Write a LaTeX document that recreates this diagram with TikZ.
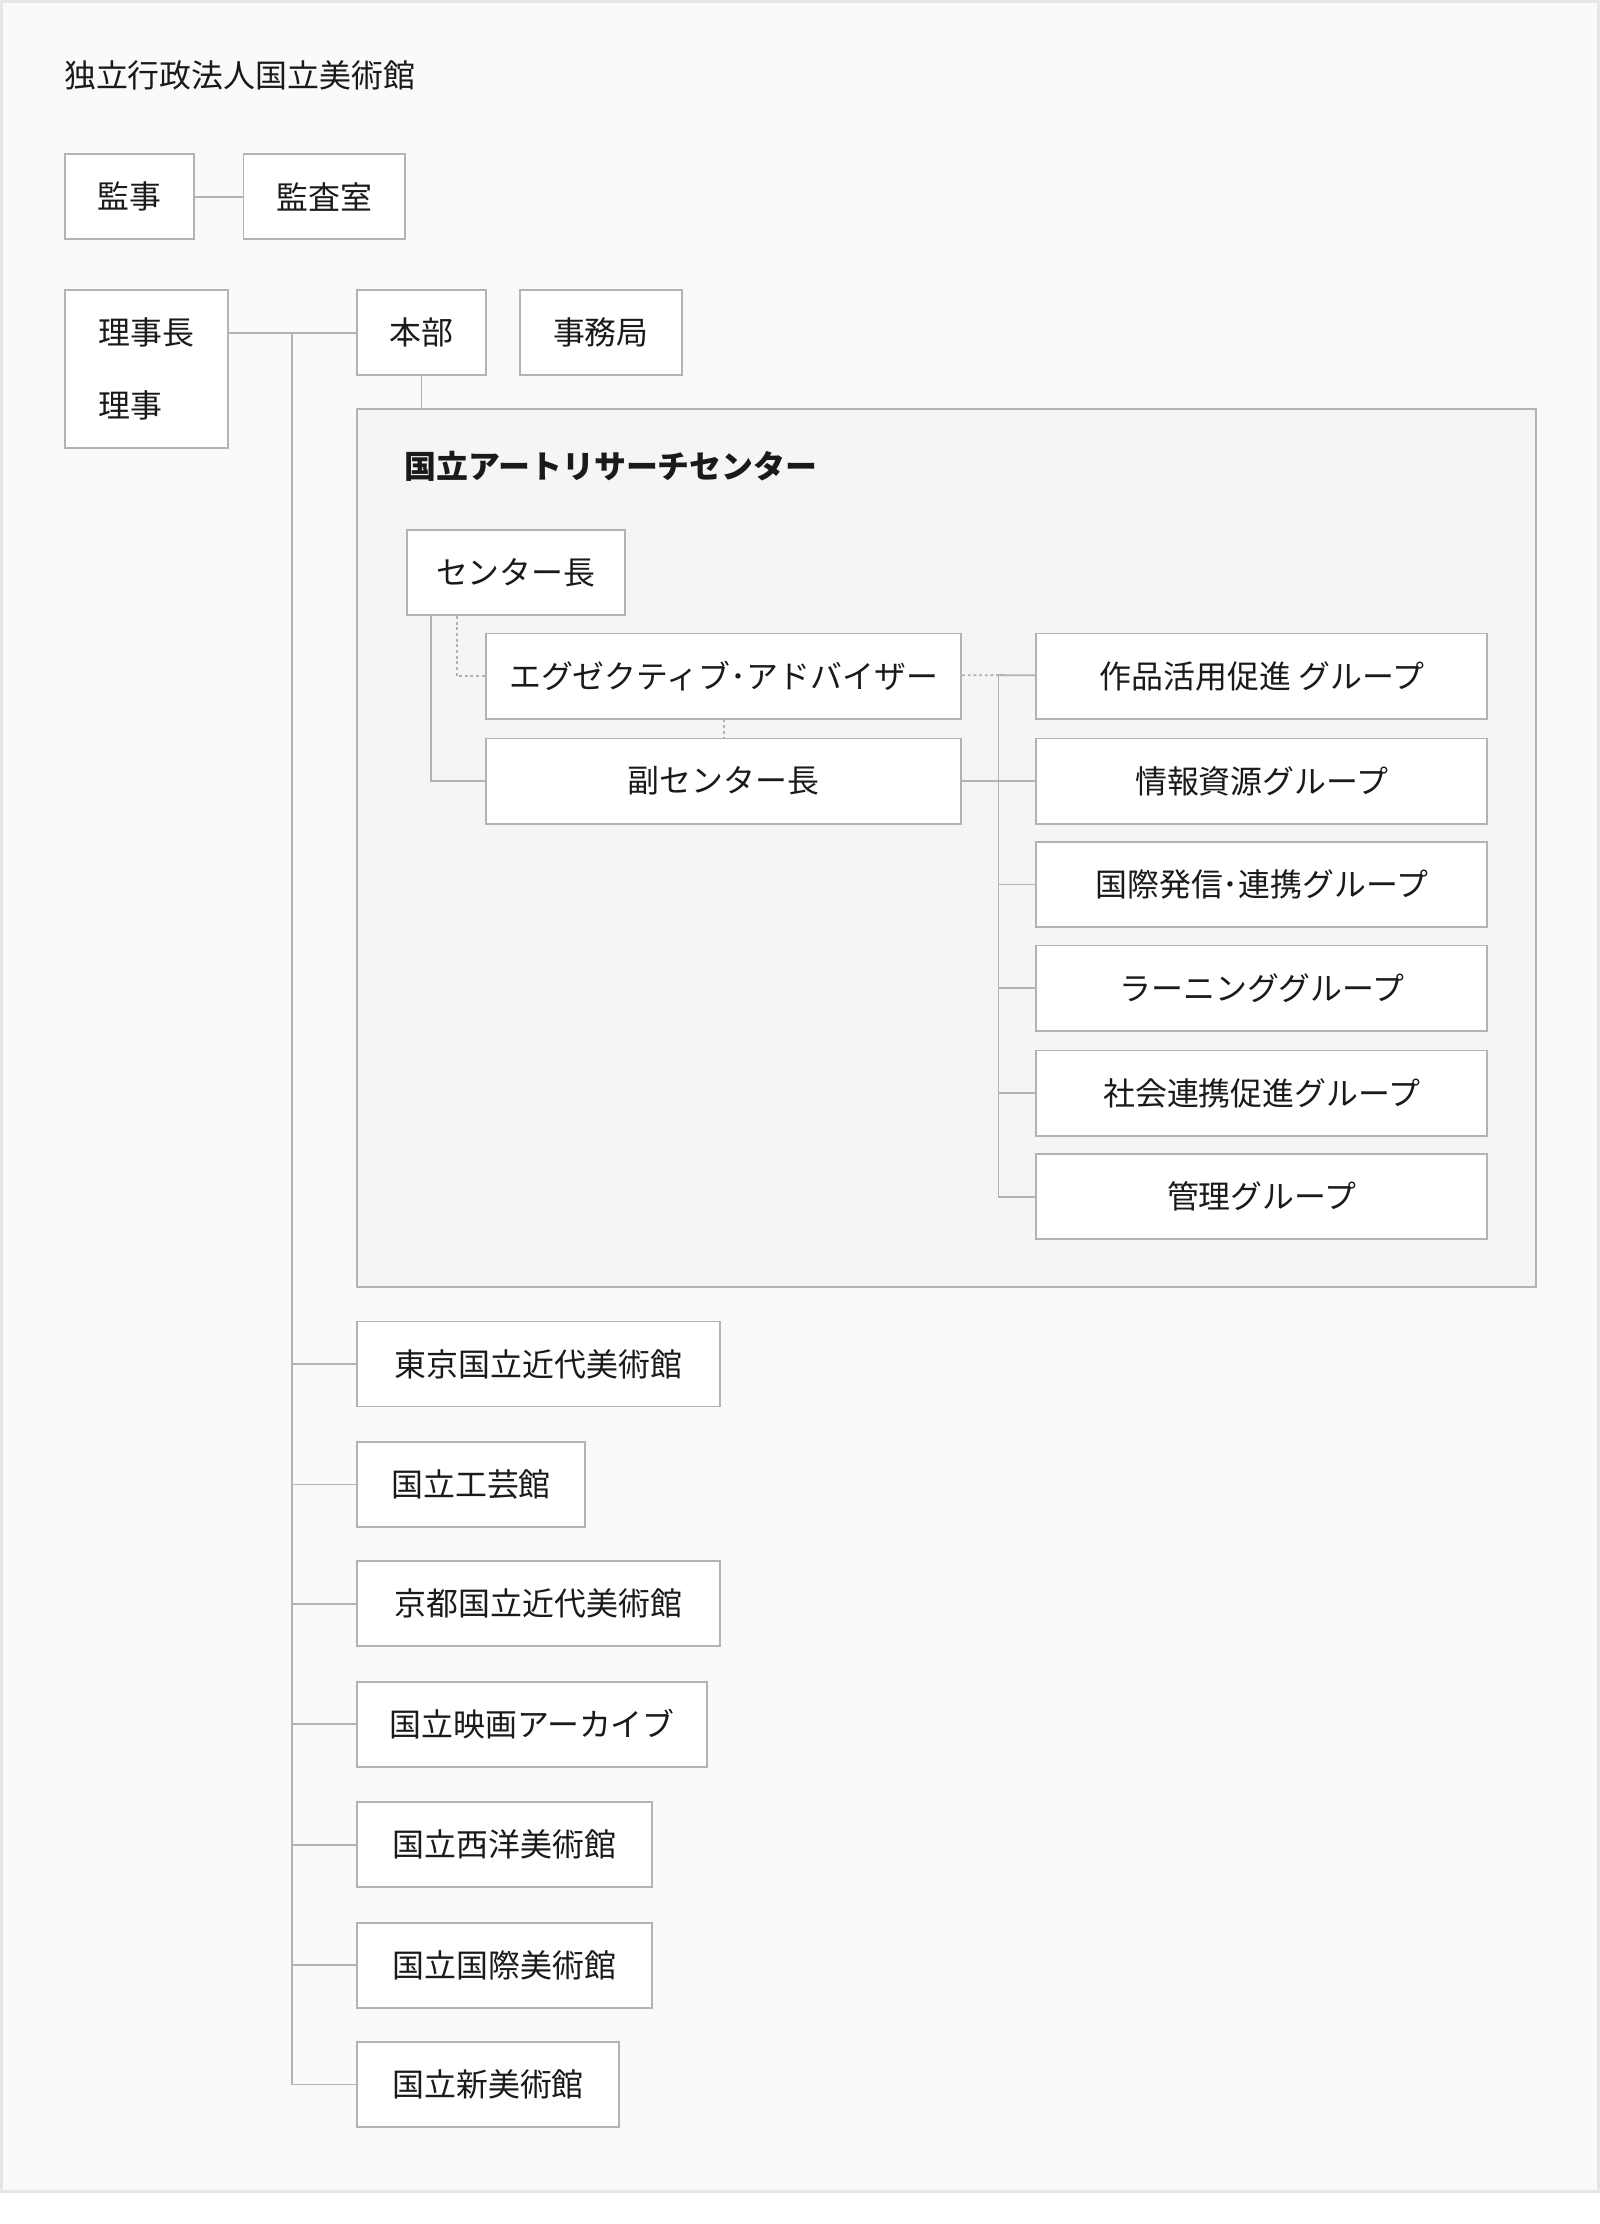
\documentclass[tikz,border=0pt]{standalone}
\usepackage{fontspec}
\setmainfont{Noto Sans CJK JP}
\usepackage{tikz}
\definecolor{linegray}{HTML}{B3B3B3}
\definecolor{framegray}{HTML}{E6E6E6}
\definecolor{bggray}{HTML}{FAFAFA}
\definecolor{panelgray}{HTML}{F5F5F5}
\definecolor{ink}{HTML}{1A1A1A}
\tikzstyle{orgbox}=[draw=linegray,fill=white,line width=1.3pt,minimum height=60pt,
inner sep=0pt,anchor=north west,text=ink,font=\fontsize{22.5}{27}\selectfont]
\tikzstyle{orgpanel}=[draw=linegray,fill=panelgray,line width=1.3pt,inner sep=0pt,anchor=north west]
\tikzstyle{orgline}=[draw=linegray,line width=1.3pt]
\tikzstyle{advline}=[draw=linegray,line width=1.3pt,dash pattern=on 2pt off 2pt]
\tikzstyle{heading}=[anchor=west,inner sep=0pt,text=ink,font=\fontsize{22.5}{27}\selectfont]

\begin{document}
\begin{tikzpicture}[x=1pt,y=-1pt]
	\useasboundingbox[fill=white] (0,0) rectangle (1128,1568);
	\path[fill=bggray,draw=framegray,line width=2pt] (1,1) rectangle (1127,1545);

	\node[heading] (title) at (45,53) {独立行政法人国立美術館};

	\node[orgbox,minimum width=91pt] (ks) at (45,108) {監事};
	\node[orgbox,minimum width=114pt] (kr) at (171,108) {監査室};
	\node[orgbox,minimum width=115pt,minimum height=111pt,align=left,
	font=\fontsize{22.5}{51}\selectfont] (rj) at (45,204) {理事長\\理事};
	\node[orgbox,minimum width=91pt] (hb) at (251,204) {本部};
	\node[orgbox,minimum width=114pt] (jm) at (366,204) {事務局};

	\node[orgpanel,minimum width=831pt,minimum height=619pt] (arc) at (251,288) {};
	\node[heading,font=\fontsize{22.5}{27}\selectfont\bfseries] (arct) at (285,329) {国立アートリサーチセンター};

	\node[orgbox,minimum width=154pt] (cd) at (286,373) {センター長};
	\node[orgbox,minimum width=335pt] (ea) at (342,446) {エグゼクティブ･アドバイザー};
	\node[orgbox,minimum width=335pt] (vd) at (342,520) {副センター長};

	\node[orgbox,minimum width=318pt] (g1) at (730,446) {作品活用促進 グループ};
	\node[orgbox,minimum width=318pt] (g2) at (730,520) {情報資源グループ};
	\node[orgbox,minimum width=318pt] (g3) at (730,593) {国際発信･連携グループ};
	\node[orgbox,minimum width=318pt] (g4) at (730,666) {ラーニンググループ};
	\node[orgbox,minimum width=318pt] (g5) at (730,740) {社会連携促進グループ};
	\node[orgbox,minimum width=318pt] (g6) at (730,813) {管理グループ};

	\node[orgbox,minimum width=256pt] (m1) at (251,931) {東京国立近代美術館};
	\node[orgbox,minimum width=161pt] (m2) at (251,1016) {国立工芸館};
	\node[orgbox,minimum width=256pt] (m3) at (251,1100) {京都国立近代美術館};
	\node[orgbox,minimum width=247pt] (m4) at (251,1185) {国立映画アーカイブ};
	\node[orgbox,minimum width=208pt] (m5) at (251,1270) {国立西洋美術館};
	\node[orgbox,minimum width=208pt] (m6) at (251,1355) {国立国際美術館};
	\node[orgbox,minimum width=185pt] (m7) at (251,1439) {国立新美術館};

	\coordinate (trunk) at (206,234);
	\coordinate (gtrunk) at (704,476);

	\path[orgline] (ks) -- (kr);
	\path[orgline] (rj.east |- hb) -- (hb);
	\path[orgline] (trunk) |- (m7);
	\path[orgline] (hb) -- (hb |- arc.north);

	\path[orgline] ([xshift=18pt]cd.south west) |- (vd);
	\path[advline] ([xshift=36pt]cd.south west) |- (ea);
	\path[advline] (ea) -- (vd);
	\path[advline] (ea) -- (gtrunk);
	\path[orgline] (vd) -- (gtrunk |- vd);

	\path[orgline] (gtrunk) |- (g6);
	\path[orgline] (gtrunk) -- (g1);
	\path[orgline] (gtrunk |- g2) -- (g2);
	\path[orgline] (gtrunk |- g3) -- (g3);
	\path[orgline] (gtrunk |- g4) -- (g4);
	\path[orgline] (gtrunk |- g5) -- (g5);

	\path[orgline] (trunk |- m1) -- (m1);
	\path[orgline] (trunk |- m2) -- (m2);
	\path[orgline] (trunk |- m3) -- (m3);
	\path[orgline] (trunk |- m4) -- (m4);
	\path[orgline] (trunk |- m5) -- (m5);
	\path[orgline] (trunk |- m6) -- (m6);

\end{tikzpicture}
\end{document}
